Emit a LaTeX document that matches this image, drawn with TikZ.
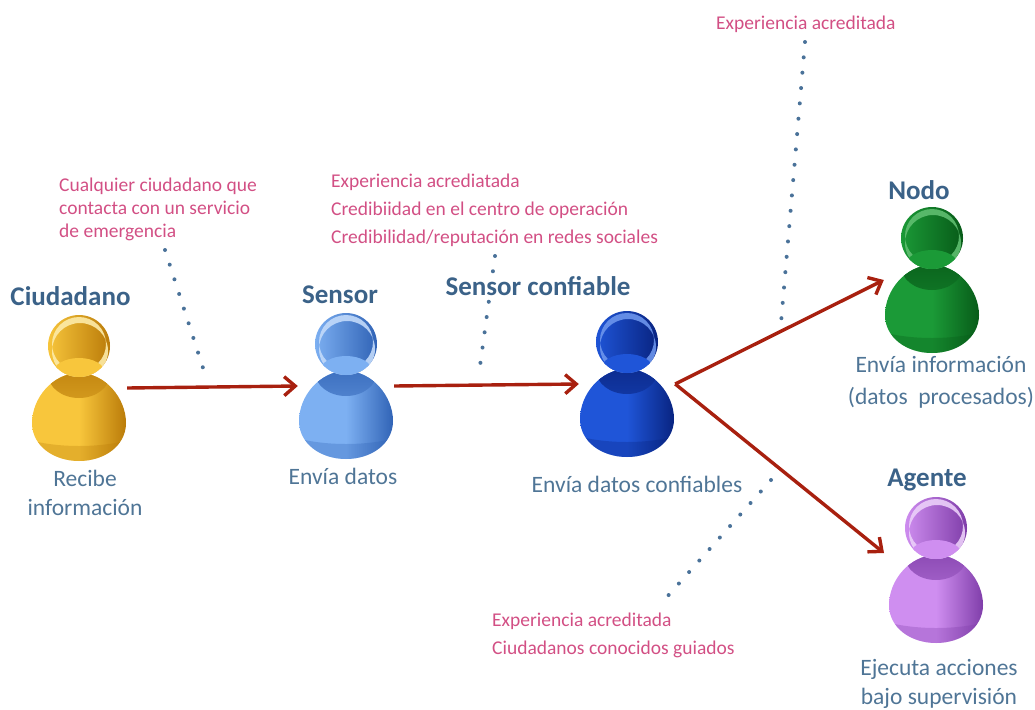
\documentclass[tikz,border=0pt]{standalone}
\usepackage{fontspec}
\setmainfont{Carlito}
\usetikzlibrary{positioning,arrows.meta}

\definecolor{titlecol}{HTML}{3B6288}
\definecolor{textcol}{HTML}{4F7596}
\definecolor{notecol}{HTML}{D24F84}
\definecolor{arrowcol}{HTML}{A8200F}
\definecolor{dotcol}{HTML}{4A7299}
\definecolor{amabase}{HTML}{F8C63C}
\definecolor{amaluz}{HTML}{FDEBA8}
\definecolor{amaosc}{HTML}{B97A08}
\definecolor{celbase}{HTML}{7DB0F2}
\definecolor{celluz}{HTML}{C2DAFA}
\definecolor{celosc}{HTML}{2F62B5}
\definecolor{azubase}{HTML}{1F55D8}
\definecolor{azuluz}{HTML}{6C95EC}
\definecolor{azuosc}{HTML}{08237F}
\definecolor{verbase}{HTML}{1B9A37}
\definecolor{verluz}{HTML}{5FBE70}
\definecolor{verosc}{HTML}{075A18}
\definecolor{morbase}{HTML}{CF8EF0}
\definecolor{morluz}{HTML}{EBCFF9}
\definecolor{morosc}{HTML}{7E3CA8}

\tikzset{
  persona/.style = {minimum width = 96pt, minimum height = 146pt, inner sep = 0pt},
  titulo/.style = {text = titlecol, inner sep = 0pt, font = \fontsize{27}{30}\selectfont\bfseries},
  texto/.style = {text = textcol, align = center, font = \fontsize{23.5}{29}\selectfont},
  nota/.style = {text = notecol, align = left, inner sep = 0pt, font = \fontsize{19.5}{28}\selectfont},
  flecha/.style = {draw = arrowcol, line width = 3.4pt, -{Straight Barb[length = 11pt, width = 19pt]}},
  puntos/.style = {draw = dotcol, line width = 4pt, line cap = round, dash pattern = on 0pt off 15.4pt},
  pics/monigote/.style n args = {3}{code = {
    % cuerpo
    \begin{scope}
      \path[clip] (0,-15) .. controls (26,-15) and (47,10) .. (47,35)
        .. controls (47,58) and (25,73) .. (0,73)
        .. controls (-25,73) and (-47,58) .. (-47,35)
        .. controls (-47,10) and (-26,-15) .. (0,-15) -- cycle;
      \shade[left color = #1, right color = #3, middle color = #1] (-48,-16) rectangle (48,74);
      \shade[top color = #3, bottom color = #3!60!#1] (0,-14) ellipse (31pt and 24pt);
      \fill[#3, opacity = .3] (-50,52) .. controls (-20,60) and (20,60) .. (50,52) -- (50,75) -- (-50,75) -- cycle;
    \end{scope}
    % cabeza
    \begin{scope}
      \path[clip] (0,-42) circle (31pt);
      \shade[left color = #1, right color = #3] (-32,-74) rectangle (32,-10);
      \fill[#2, even odd rule, opacity = .9] (0,-44) circle (27pt) (1,-37) circle (28pt);
      \fill[#1] (0,-15) ellipse (26pt and 15pt);
    \end{scope}
  }}
}

\begin{document}
\begin{tikzpicture}[x = 1pt, y = -1pt]
\useasboundingbox (0,0) rectangle (1035,709);

\node[persona] (ciudadano) at (79,388) {};
\node[persona] (sensor) at (346,386) {};
\node[persona] (confiable) at (627,384) {};
\node[persona] (nodo) at (932,280) {};
\node[persona] (agente) at (936,570) {};

\pic at (ciudadano) {monigote = {amabase}{amaluz}{amaosc}};
\pic at (sensor) {monigote = {celbase}{celluz}{celosc}};
\pic at (confiable) {monigote = {azubase}{azuluz}{azuosc}};
\pic at (nodo) {monigote = {verbase}{verluz}{verosc}};
\pic at (agente) {monigote = {morbase}{morluz}{morosc}};

\coordinate (pc1) at (165,250);
\coordinate (pc2) at (204,371);
\coordinate (ps1) at (495,256);
\coordinate (ps2) at (480,366);
\coordinate (pn1) at (805,42);
\coordinate (pn2) at (781,323);
\coordinate (pa1) at (771,480);
\coordinate (pa2) at (666,598);
\coordinate (entrada) at (884,553);

\draw[puntos] (pc1) -- (pc2);
\draw[puntos] (ps1) -- (ps2);
\draw[puntos] (pn1) -- (pn2);
\draw[puntos] (pa1) -- (pa2);

\node[titulo] (tciudadano) at (70.5,296) {Ciudadano};
\node[titulo] (tsensor) at (340,295) {Sensor};
\node[titulo, fill = white] (tconfiable) at (538,286) {Sensor confiable};
\node[titulo] (tnodo) at (919,190) {Nodo};
\node[titulo] (tagente) at (927,480) {Agente};

\node[texto] (dciudadano) at (85,493) {Recibe\\información};
\node[texto] (dsensor) at (343,476) {Envía datos};
\node[texto] (dconfiable) at (637,484) {Envía datos confiables};
\node[texto] (dnodo) at (941,382) {Envía información\\[3pt](datos\ \ procesados)};
\node[texto] (dagente) at (939,684) {Ejecuta acciones\\bajo supervisión};

\node[nota, anchor = north west] (nciudadano) at (59,178) {Cualquier ciudadano que\\[-5pt]contacta con un servicio\\[-5pt]de emergencia};
\node[nota, anchor = north west] (nsensor) at (331,174) {Experiencia acrediatada\\Credibiidad en el centro de operación\\Credibilidad/reputación en redes sociales};
\node[nota, anchor = north west] (nnodo) at (716,16) {Experiencia acreditada};
\node[nota, anchor = north west] (nagente) at (492,613) {Experiencia acreditada\\Ciudadanos conocidos guiados};

\draw[flecha] (ciudadano.east) -- (sensor.west);
\draw[flecha] (sensor.east) -- (confiable.west);
\draw[flecha] (confiable.east) -- (nodo.west);
\draw[flecha] (confiable.east) -- (entrada);
\end{tikzpicture}
\end{document}
